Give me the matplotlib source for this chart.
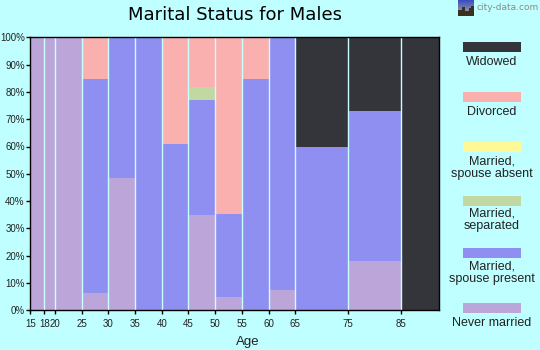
import numpy as np
import matplotlib
matplotlib.use('Agg')
import matplotlib.pyplot as plt
from matplotlib.colors import LinearSegmentedColormap
from matplotlib.patches import Rectangle

# age bands (left edges, last one is open ended and drawn to the axis end)
edges = [15, 18, 20, 25, 30, 35, 40, 45, 50, 55, 60, 65, 75, 85, 92]
tick_ages = [15, 18, 20, 25, 30, 35, 40, 45, 50, 55, 60, 65, 75, 85]

never_married = [100, 100, 100, 6.5, 48.3, 0, 0, 35, 4.7, 0, 7.5, 0, 18, 0]
spouse_present = [0, 0, 0, 78.2, 51.7, 100, 61, 42, 30.6, 84.7, 92.5, 60, 55, 0]
separated = [0, 0, 0, 0, 0, 0, 0, 4.7, 0, 0, 0, 0, 0, 0]
spouse_absent = [0, 0, 0, 0, 0, 0, 0, 0, 0, 0, 0, 0, 0, 0]
divorced = [0, 0, 0, 15.3, 0, 0, 39, 18.3, 64.7, 15.3, 0, 0, 0, 0]
widowed = [0, 0, 0, 0, 0, 0, 0, 0, 0, 0, 0, 40, 27, 100]

series = [never_married, spouse_present, separated, spouse_absent, divorced, widowed]
colors = ['#BCA6D9', '#8F8FF2', '#C2D8A3', '#FFF897', '#FBB0B0', '#34353B']
legend_labels = ['Never married', 'Married,\nspouse present', 'Married,\nseparated',
                 'Married,\nspouse absent', 'Divorced', 'Widowed']
legend_y = [303, 248, 196, 142, 92, 42]
legend_text_y = [323, 272.5, 219.5, 167.5, 112, 62]

bg = '#BFFFFF'
W, H = 540, 350
font = 'Liberation Sans'

# the original axis is not quite linear in age, so map ages to its pixel columns
age_knots = np.array(edges, dtype=float)
px_knots = np.array([30.3, 44.3, 55.3, 82.3, 108.3, 135.3, 162.3, 188.3, 215.3,
                     241.5, 268.5, 295.3, 348.3, 401.3, 439.3])


def age_to_px(a):
    return np.interp(a, age_knots, px_knots)


def px_to_age(p):
    return np.interp(p, px_knots, age_knots)


fig = plt.figure(figsize=(W / 100, H / 100), dpi=100, facecolor=bg)
ax = fig.add_axes([30.3 / W, 1 - 310.3 / H, 409 / W, 273 / H], facecolor=bg)
ax.set_xscale('function', functions=(age_to_px, px_to_age))

widths = np.diff(edges)
bottom = np.zeros(len(widths))
for vals, col in zip(series, colors):
    vals = np.array(vals, dtype=float)
    ax.bar(edges[:-1], vals, widths, bottom=bottom, align='edge', color=col, linewidth=0)
    bottom += vals

# thin light separators between the bands
for e in edges[1:-1]:
    ax.axvline(e, color='#C8FFFF', lw=1)

ax.set_xlim(15, 92)
ax.set_ylim(0, 100)
ax.set_xticks(tick_ages)
ax.set_xticks([], minor=True)
ax.set_xticklabels([str(a) for a in tick_ages], family=font, fontsize=7, color='#222222')
ax.set_yticks(range(0, 101, 10))
ax.set_yticklabels([f'{v}%' for v in range(0, 101, 10)], family=font, fontsize=7, color='#222222')
ax.tick_params(length=3, width=1, color='black')
ax.tick_params(axis='y', pad=1)
ax.tick_params(axis='x', pad=3)
for s in ax.spines.values():
    s.set_linewidth(1)

fig.text(235 / W, 1 - 15 / H, 'Marital Status for Males', ha='center', va='center',
         fontsize=13, color='black')
fig.text(248 / W, 1 - 342.5 / H, 'Age', ha='center', va='center', family=font,
         fontsize=9.5, color='#222222')

# legend on the right, built by hand
for lab, col, y, ty in zip(legend_labels, colors, legend_y, legend_text_y):
    fig.patches.append(Rectangle((463 / W, 1 - (y + 10) / H), 58 / W, 10 / H,
                                 transform=fig.transFigure, facecolor=col, linewidth=0, figure=fig))
    fig.text(492 / W, 1 - ty / H, lab, ha='center', va='center', family=font,
             fontsize=9, color='#222222', linespacing=1.05)

# city-data logo
logo = fig.add_axes([458 / W, 1 - 16 / H, 16 / W, 16 / H])
sky = LinearSegmentedColormap.from_list('sky', ['#3A4FC0', '#B9A99A'])
logo.imshow(np.linspace(0, 1, 16).reshape(-1, 1), cmap=sky, aspect='auto', extent=(0, 16, 0, 16))
logo.bar([2, 5.5, 9, 12.5, 15], [6, 9, 5, 8, 10], width=3.2, color='#3A3020')
logo.set_xlim(0, 16)
logo.set_ylim(0, 16)
logo.axis('off')
fig.text(476.5 / W, 1 - 7.5 / H, 'city-data.com', ha='left', va='center', fontsize=6.5, color='#8A8A8A')

fig.savefig('out.png', dpi=100, facecolor=bg)
